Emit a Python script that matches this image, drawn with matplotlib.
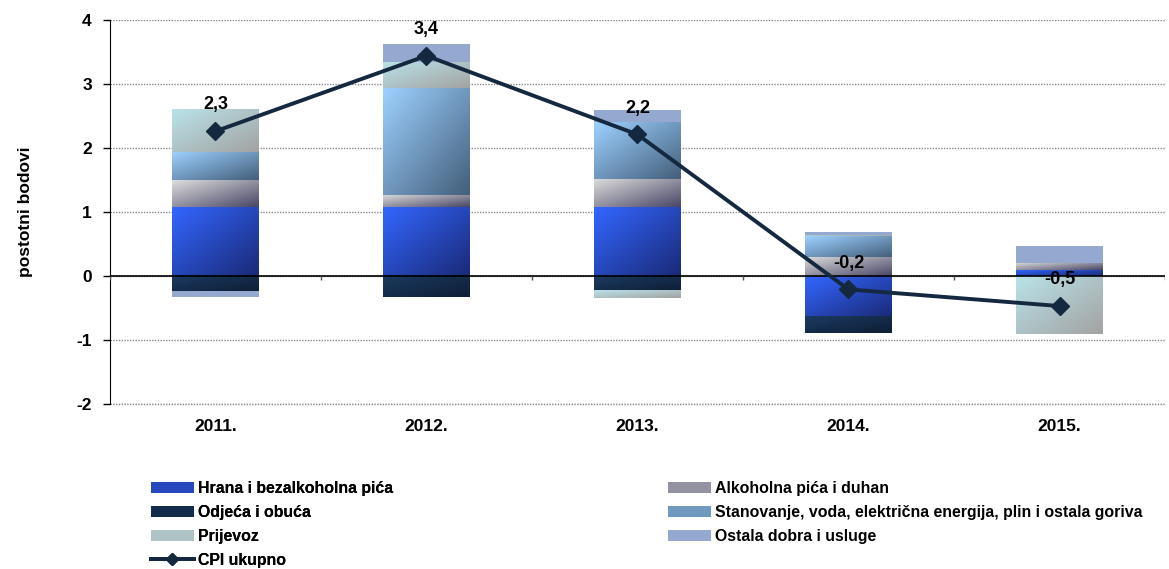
import numpy as np
import matplotlib
matplotlib.use("Agg")
import matplotlib.pyplot as plt
from matplotlib.colors import to_rgb
from matplotlib.lines import Line2D

plt.rcParams['font.family'] = ['Liberation Sans', 'DejaVu Sans']
plt.rcParams['axes.unicode_minus'] = False

# values (percentage points)
years = ['2011.', '2012.', '2013.', '2014.', '2015.']
hrana = [1.08, 1.08, 1.07, -0.64, 0.10]
alkohol = [0.42, 0.19, 0.45, 0.30, 0.11]
odjeca = [-0.25, -0.33, -0.23, -0.25, 0.0]
stanovanje = [0.44, 1.66, 0.88, 0.32, 0.0]
prijevoz = [0.67, 0.42, -0.12, 0.02, -0.90]
ostala = [-0.08, 0.28, 0.18, 0.04, 0.25]
cpi = [2.26, 3.44, 2.21, -0.21, -0.47]

names = ['Hrana i bezalkoholna pića', 'Alkoholna pića i duhan', 'Odjeća i obuća',
         'Stanovanje, voda, električna energija, plin i ostala goriva',
         'Prijevoz', 'Ostala dobra i usluge']
series = [hrana, alkohol, odjeca, stanovanje, prijevoz, ostala]
# gradient colours (top-left -> bottom-right), like the excel fill
grads = [('#3366ff', '#1a2a78'),
         ('#dcdcdc', '#4a4868'),
         ('#1b3a60', '#0e1e36'),
         ('#9dd0ff', '#44607c'),
         ('#b9e2e8', '#a3a3a3'),
         ('#95a9d0', '#95a9d0')]


def grad_fill(ax, rect, c1, c2, n=32):
    x0, w = rect.get_x(), rect.get_width()
    y0, h = rect.get_y(), rect.get_height()
    if abs(h) < 1e-9:
        return
    ylo, yhi = min(y0, y0 + h), max(y0, y0 + h)
    i, j = np.mgrid[0:n, 0:n] / (n - 1)
    t = ((i + j) / 2)[..., None]
    img = np.array(to_rgb(c1)) * (1 - t) + np.array(to_rgb(c2)) * t
    ax.imshow(img, extent=[x0, x0 + w, ylo, yhi], origin='upper',
              aspect='auto', interpolation='bilinear', zorder=2.1)


fig = plt.figure(figsize=(11.69, 5.69), dpi=100)
ax = fig.add_axes([0.094, 0.29, 0.9026, 0.675])

x = np.arange(len(years))
pos_bottom = np.zeros(len(years))
neg_bottom = np.zeros(len(years))
handles = []
for vals, name, (c1, c2) in zip(series, names, grads):
    vals = np.array(vals)
    bottom = np.where(vals >= 0, pos_bottom, neg_bottom)
    mid = tuple((np.array(to_rgb(c1)) + np.array(to_rgb(c2))) / 2)
    bars = ax.bar(x, vals, width=0.41, bottom=bottom, color=mid,
                  label=name, zorder=2)
    for r in bars:
        grad_fill(ax, r, c1, c2)
    pos_bottom = pos_bottom + np.where(vals >= 0, vals, 0)
    neg_bottom = neg_bottom + np.where(vals < 0, vals, 0)
    handles.append(bars)

ax.plot(x, cpi, color='#14283f', lw=2.8, marker='D', ms=9,
        zorder=4, label='CPI ukupno')
cpi_handle = Line2D([], [], color='#14283f', lw=2.8, marker='D', ms=6.5)

for xi, v in zip(x, cpi):
    ax.annotate(f"{v:.1f}".replace('.', ','), (xi, v), xytext=(0, 19),
                textcoords='offset points', ha='center', va='center',
                fontsize=13, fontweight='bold', zorder=5)

ax.set_xlim(-0.5, len(years) - 0.5)
ax.set_ylim(-2, 4)
ax.set_yticks(range(-2, 5))
ax.yaxis.grid(True, linestyle=(0, (1, 1)), color='#888888', lw=1.0)
ax.axhline(-2, linestyle=(0, (1, 1)), color='#888888', lw=1.0, clip_on=False)
ax.set_axisbelow(True)
ax.axhline(0, color='black', lw=1.2, zorder=3)
# small tick marks on the category axis at category boundaries
ax.vlines(np.arange(len(years) + 1) - 0.5, -0.07, 0, color='#555555',
          lw=1, zorder=3)

ax.set_xticks(x)
ax.set_xticklabels(years, fontsize=12.5, fontweight='bold')
ax.tick_params(axis='x', length=0, pad=11)
ax.tick_params(axis='y', labelsize=12.5, length=5, width=1, pad=8)
for lab in ax.get_yticklabels():
    lab.set_fontweight('bold')
for s in ['top', 'right', 'bottom']:
    ax.spines[s].set_visible(False)
ax.spines['left'].set_color('black')
ax.set_ylabel('postotni bodovi', fontsize=12.5, fontweight='bold', labelpad=31)

leg_kw = dict(loc='upper left', frameon=False, prop={'weight': 'bold', 'size': 11.4},
              handlelength=2.7, handleheight=0.65, handletextpad=0.28,
              labelspacing=0.57, borderpad=0, borderaxespad=0)
leg1 = fig.legend([handles[0], handles[2], handles[4], cpi_handle],
                  [names[0], names[2], names[4], 'CPI ukupno'],
                  bbox_to_anchor=(0.129, 0.155), **leg_kw)
fig.add_artist(leg1)
fig.legend([handles[1], handles[3], handles[5]],
           [names[1], names[3], names[5]],
           bbox_to_anchor=(0.5714, 0.155), **leg_kw)

fig.savefig('out.png', dpi=100)
